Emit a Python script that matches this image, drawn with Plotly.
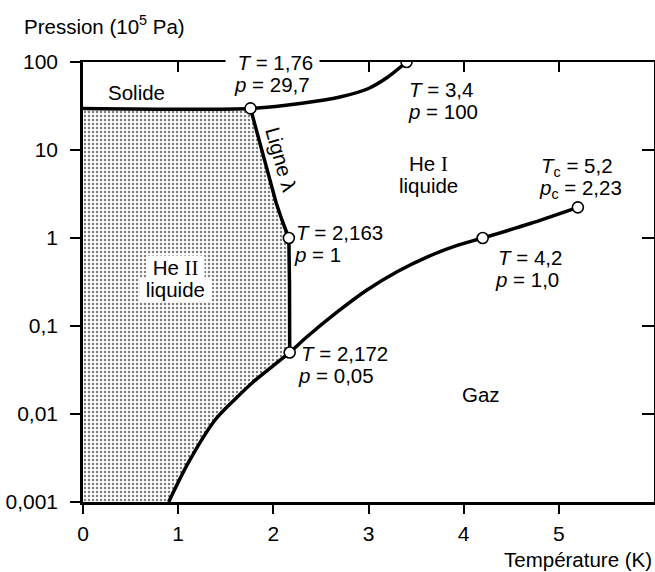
import math
import plotly.graph_objects as go

# Helium-4 phase diagram: temperature in K, pressure in 1e5 Pa
melt_T = [0.0, 1.76, 2.3, 2.7, 3.0, 3.2, 3.4]
melt_p = [29.7, 29.7, 34.0, 40.0, 50.0, 67.0, 100.0]

lambda_T = [1.76, 1.85, 1.94, 2.03, 2.10, 2.163, 2.170, 2.172]
lambda_p = [29.7, 13.0, 5.5, 2.5, 1.5, 1.0, 0.3, 0.05]

vapor_T = [0.9, 1.107, 1.386, 1.6, 1.8, 2.0, 2.172, 2.345, 2.672, 2.98, 3.3, 3.62, 3.94,
           4.2, 4.7, 5.2]
vapor_p = [0.001, 0.0028, 0.0085, 0.0148, 0.0237, 0.0355, 0.05, 0.0741, 0.1445, 0.255, 0.414,
           0.612, 0.828, 1.0, 1.46, 2.23]

point_T = [1.76, 3.4, 2.163, 2.172, 4.2, 5.2]
point_p = [29.7, 100.0, 1.0, 0.05, 1.0, 2.23]

x_ticks = [0, 1, 2, 3, 4, 5]
y_ticks = [0.001, 0.01, 0.1, 1, 10, 100]
y_ticktext = ["0,001", "0,01", "0,1", "1", "10", "100"]

FONT = "Liberation Sans, Arial, Helvetica, sans-serif"
FS = 20.5
TICK_FS = 21
NB = "\u00a0"

fig = go.Figure()

# He II region: bounded by the axes, the solid line, the lambda line and the vapour curve
p_min = y_ticks[0]
below = [(t, p) for t, p in zip(reversed(vapor_T), reversed(vapor_p)) if t < lambda_T[-1]]
fill_T = [0.0, 0.0] + lambda_T + [t for t, _ in below]
fill_p = [p_min, melt_p[0]] + lambda_p + [p for _, p in below]
fig.add_trace(go.Scatter(
    x=fill_T, y=fill_p, mode="none", fill="toself",
    fillcolor="white",
    fillpattern=dict(shape=".", size=4, solidity=0.32, fgcolor="#000000", bgcolor="white"),
    hoverinfo="skip", showlegend=False,
))

curves = (
    (melt_T, melt_p, "spline"),
    (lambda_T, lambda_p, "linear"),
    (vapor_T, vapor_p, "spline"),
)
for xs, ys, shape in curves:
    fig.add_trace(go.Scatter(
        x=xs, y=ys, mode="lines",
        line=dict(color="black", width=3.5, shape=shape, smoothing=0.8),
        hoverinfo="skip", showlegend=False,
    ))

# Notable points, drawn on the overlay axes so they sit above everything
fig.add_trace(go.Scatter(
    x=point_T, y=point_p, mode="markers", xaxis="x2", yaxis="y2",
    marker=dict(size=11, color="white", line=dict(color="black", width=1.6)),
    showlegend=False,
))


def label(text, T, logp, xanchor="left", bg=None, angle=0):
    fig.add_annotation(
        x=T, y=logp, xref="x", yref="y", text=text, showarrow=False,
        xanchor=xanchor, yanchor="middle", textangle=angle,
        bgcolor=bg, borderpad=0,
        font=dict(family=FONT, size=FS, color="black"),
    )


roman = "<span style='font-family:Liberation Serif, Times New Roman, serif'>{}</span>"

label(NB + NB + "<i>T</i> = 1,76" + NB, 1.49, 1.99, bg="white")
label("<i>p</i> = 29,7", 1.575, 1.739)
label("<i>T</i> = 3,4", 3.415, 1.693)
label("<i>p</i> = 100", 3.40, 1.443)
label("Solide", 0.567, 1.65, xanchor="center")
label("Ligne λ", 2.09, 0.886, xanchor="center", angle=74)
label("He " + roman.format("I"), 3.635, 0.852, xanchor="center")
label("liquide", 3.635, 0.602, xanchor="center")
label("<i>T</i><sub>c</sub> = 5,2", 4.80, 0.807)
label("<i>p</i><sub>c</sub> = 2,23", 4.78, 0.557)
label("<i>T</i> = 2,163", 2.228, 0.057)
label("<i>p</i> = 1", 2.207, -0.193)
label(NB + "He " + roman.format("II") + NB, 0.97, -0.33, xanchor="center", bg="white")
label(NB + "liquide" + NB, 0.97, -0.58, xanchor="center", bg="white")
label("<i>T</i> = 4,2", 4.35, -0.227)
label("<i>p</i> = 1,0", 4.32, -0.477)
label("<i>T</i> = 2,172", 2.28, -1.307)
label("<i>p</i> = 0,05", 2.25, -1.557)
label("Gaz", 4.18, -1.784, xanchor="center")

fig.add_annotation(
    xref="paper", yref="paper", x=-0.107, y=1.084, xanchor="left", yanchor="middle",
    text="Pression (10<sup>5</sup> Pa)", showarrow=False,
    font=dict(family=FONT, size=FS, color="black"),
)
fig.add_annotation(
    xref="paper", yref="paper", x=1.0, y=-0.13, xanchor="right", yanchor="middle",
    text="Température (K)", showarrow=False,
    font=dict(family=FONT, size=FS, color="black"),
)

x_range = [0, 6]
y_range = [math.log10(y_ticks[0]), math.log10(y_ticks[-1])]

fig.update_layout(
    width=655, height=572,
    margin=dict(l=83, r=1, t=62, b=70),
    paper_bgcolor="white", plot_bgcolor="white",
    font=dict(family=FONT, size=FS, color="black"),
    xaxis=dict(
        range=x_range, tickvals=x_ticks, ticks="outside", ticklen=9, tickwidth=1.5,
        tickcolor="black", showline=True, linewidth=2.5, linecolor="black",
        showgrid=False, zeroline=False, ticklabelstandoff=2,
        tickfont=dict(family=FONT, size=TICK_FS),
    ),
    yaxis=dict(
        type="log", range=y_range, tickvals=y_ticks, ticktext=y_ticktext,
        ticks="outside", ticklen=10, tickwidth=1.5, tickcolor="black",
        showline=True, linewidth=2.5, linecolor="black",
        showgrid=False, zeroline=False, ticklabelstandoff=8,
        tickfont=dict(family=FONT, size=TICK_FS),
    ),
    xaxis2=dict(
        overlaying="x", side="top", anchor="y2", range=x_range, tickvals=x_ticks,
        ticks="inside", ticklen=10, tickwidth=1.5, tickcolor="black",
        showticklabels=False, showline=True, linewidth=2, linecolor="black",
        showgrid=False, zeroline=False,
    ),
    yaxis2=dict(
        overlaying="y", side="right", anchor="x2", type="log", range=y_range,
        tickvals=y_ticks[1:-1], ticks="inside", ticklen=12, tickwidth=1.5,
        tickcolor="black", showticklabels=False, showline=True, linewidth=2,
        linecolor="black", showgrid=False, zeroline=False,
    ),
)

fig.write_html("out.html")
